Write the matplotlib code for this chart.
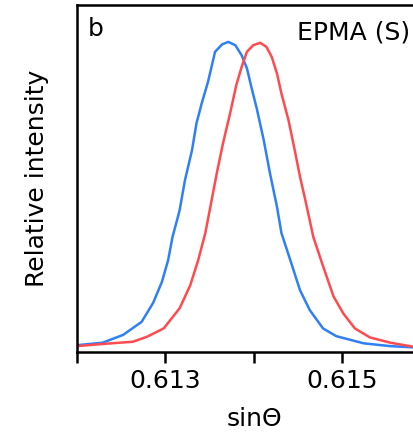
import matplotlib
matplotlib.use("Agg")
import matplotlib.pyplot as plt

# peak profiles (sin theta, relative intensity)
blue_x = [0.61200, 0.61229, 0.61252, 0.61273, 0.61286, 0.61296, 0.61303, 0.61308,
          0.61313, 0.61316, 0.61322, 0.61330, 0.61335, 0.61341, 0.61348, 0.61356,
          0.61364, 0.61371, 0.61379, 0.61386, 0.61392, 0.61397, 0.61403, 0.61411,
          0.61418, 0.61426, 0.61431, 0.61441, 0.61452, 0.61463, 0.61478, 0.61493,
          0.61524, 0.61554, 0.61580]
blue_y = [0.022, 0.030, 0.055, 0.097, 0.158, 0.226, 0.296, 0.371,
          0.424, 0.457, 0.553, 0.650, 0.736, 0.801, 0.869, 0.966,
          0.990, 0.998, 0.987, 0.955, 0.913, 0.853, 0.785, 0.682,
          0.576, 0.467, 0.383, 0.296, 0.199, 0.135, 0.076, 0.051,
          0.028, 0.019, 0.015]

red_x = [0.61200, 0.61229, 0.61263, 0.61279, 0.61298, 0.61316, 0.61328, 0.61337,
         0.61345, 0.61350, 0.61358, 0.61365, 0.61373, 0.61380, 0.61386, 0.61392,
         0.61399, 0.61407, 0.61414, 0.61420, 0.61426, 0.61431, 0.61439, 0.61446,
         0.61452, 0.61458, 0.61467, 0.61477, 0.61490, 0.61501, 0.61514, 0.61531,
         0.61554, 0.61580]
red_y = [0.019, 0.026, 0.033, 0.049, 0.076, 0.141, 0.215, 0.296,
         0.383, 0.457, 0.576, 0.672, 0.768, 0.859, 0.917, 0.966,
         0.987, 0.995, 0.982, 0.950, 0.896, 0.832, 0.746, 0.650,
         0.564, 0.489, 0.371, 0.285, 0.178, 0.124, 0.076, 0.047,
         0.030, 0.017]

major_ticks = [0.613, 0.615]
minor_ticks = [0.612, 0.614]

fig = plt.figure(figsize=(4.14, 4.33), dpi=100)
ax = fig.add_axes([0.186, 0.187, 0.855, 0.801])

ax.plot(blue_x, blue_y, color="#2f7ff6", lw=1.8)
ax.plot(red_x, red_y, color="#ff4a4f", lw=1.8)

ax.set_xlim(0.612, 0.616)
ax.set_ylim(0, 1.116)

ax.set_xticks(major_ticks)
ax.set_xticklabels(["0.613", "0.615"])
ax.set_xticks(minor_ticks, minor=True)
ax.tick_params(axis="x", which="both", direction="out", length=8, width=1.8,
               labelsize=18, pad=4)
ax.set_yticks([])

for s in ax.spines.values():
    s.set_linewidth(1.8)

ax.set_xlabel("sinΘ", fontsize=18, labelpad=10)
ax.set_ylabel("Relative intensity", fontsize=18, labelpad=20)

ax.text(0.03, 0.965, "b", transform=ax.transAxes, fontsize=18, va="top")
fig.text(0.99, 0.924, "EPMA (S)", fontsize=18, ha="right", va="center")

fig.savefig("out.png", dpi=100)
